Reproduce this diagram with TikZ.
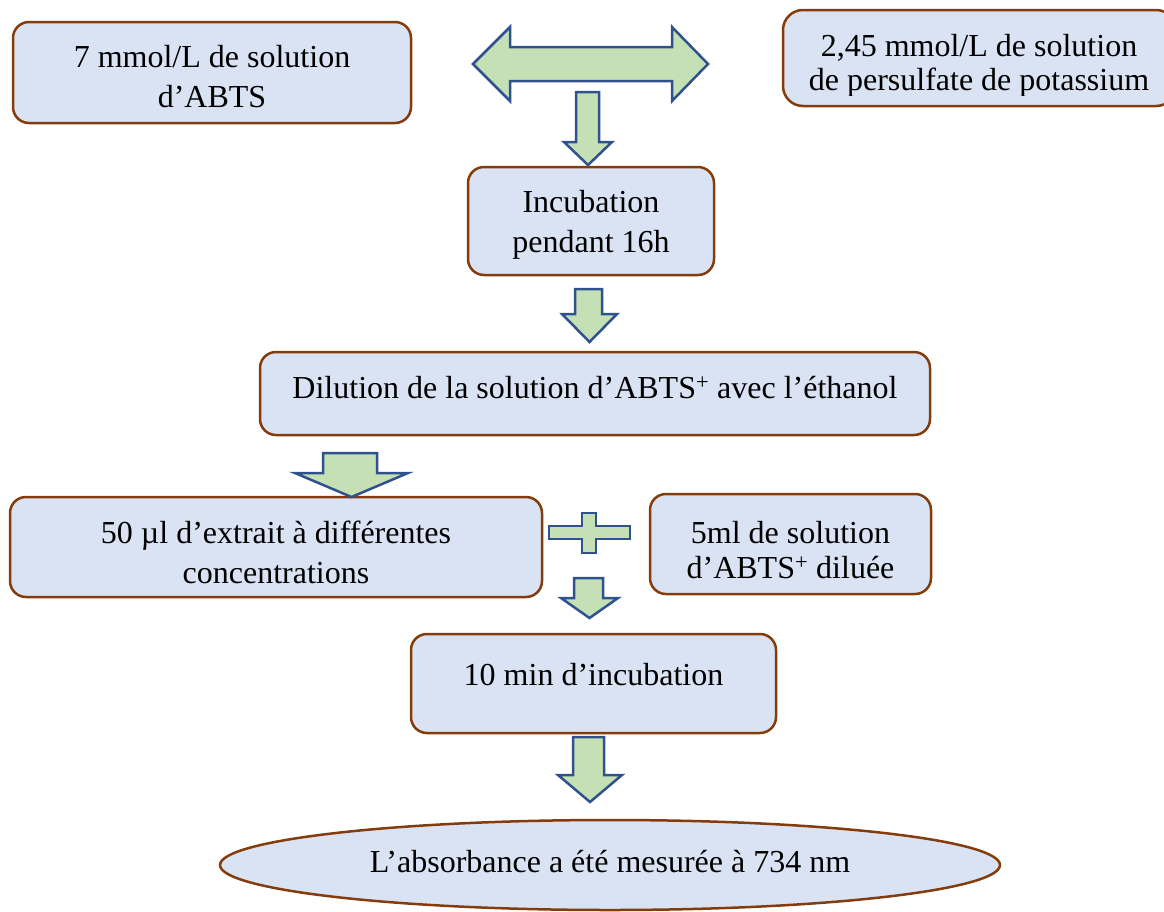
\documentclass[tikz,border=0pt]{standalone}
\usepackage{fontspec}
\setmainfont{Liberation Serif}
\usetikzlibrary{shapes.geometric}
\definecolor{boxfill}{HTML}{DAE3F3}
\definecolor{boxdraw}{HTML}{843C0C}
\definecolor{arrfill}{HTML}{C5E0B4}
\definecolor{arrdraw}{HTML}{2F528F}
\newcommand\blockdn[7]{%
  \draw[blockarrow] (#1,#3) -- (#2,#3) -- (#2,#4) -- (#6,#4) -- ({(#5+#6)/2},#7) -- (#5,#4) -- (#1,#4) -- cycle;}
\begin{document}
\begin{tikzpicture}[x=1pt,y=-1pt,
  stepbox/.style={draw=boxdraw,fill=boxfill,line width=2.5pt,rounded corners=16pt,inner sep=0pt},
  blockarrow/.style={draw=arrdraw,fill=arrfill,line width=2.5pt,line join=miter},
  txt/.style={inner sep=0pt,align=center,font=\fontsize{32}{40}\selectfont}]
\useasboundingbox (0,0) rectangle (1164,911);
\clip (0,0) rectangle (1164,911);

% boxes
\node[stepbox,minimum width=398pt,minimum height=101pt] (a) at (212,72.5) {};
\node[txt] (at) at ([yshift=-4.5pt]a.center) {7 mmol/L de solution\\d’ABTS};
\node[stepbox,minimum width=393pt,minimum height=96pt,rounded corners=20pt] (b) at (979.5,58) {};
\begin{scope}
  \clip (780,0) rectangle (1164,95);
  \node[txt,font=\fontsize{32}{34}\selectfont] (bt) at (979,66) {2,45 mmol/L de solution\\de persulfate de potassium};
\end{scope}
\node[stepbox,minimum width=246pt,minimum height=108pt] (c) at (591,221) {};
\node[txt] (ct) at ([yshift=-4pt]c.center) {Incubation\\pendant 16h};
\node[stepbox,minimum width=670pt,minimum height=83pt] (d) at (595,393.5) {};
\node[txt] (dt) at ([yshift=6pt]d.center) {Dilution de la solution d’ABTS\textsuperscript{+} avec l’éthanol};
\node[stepbox,minimum width=532pt,minimum height=100pt] (e) at (276,547) {};
\node[txt] (et) at ([yshift=-5pt]e.center) {50 µl d’extrait à différentes\\concentrations};
\node[stepbox,minimum width=281pt,minimum height=100pt] (f) at (790.5,544) {};
\node[txt,font=\fontsize{32}{35}\selectfont] (ft) at ([yshift=-6pt]f.center) {5ml de solution\\d’ABTS\textsuperscript{+} diluée};
\node[stepbox,minimum width=365pt,minimum height=99pt] (g) at (593.5,683.5) {};
\node[txt] (gt) at ([yshift=9pt]g.center) {10 min d’incubation};
\node[draw=boxdraw,fill=boxfill,line width=2.5pt,ellipse,inner sep=0pt,
  minimum width=780pt,minimum height=90pt] (h) at (610,865) {};
\node[txt] (ht) at ([yshift=3pt]h.center) {L’absorbance a été mesurée à 734 nm};

% double arrow
\draw[blockarrow] (473,64) -- (510,27) -- (510,47) -- (672,47) -- (672,27) -- (708,64)
  -- (672,101) -- (672,81) -- (510,81) -- (510,101) -- cycle;
% down arrows
\blockdn{576}{599}{92}{142}{564}{612}{165}
\blockdn{575}{602}{289}{314}{562}{617}{342}
\blockdn{323}{377}{453}{473}{295}{408}{497}
\blockdn{574}{603}{578}{598}{561}{618}{618}
\blockdn{573}{604}{737}{775}{558}{622}{802}
% plus
\draw[blockarrow] (582,513) -- (596,513) -- (596,526) -- (630,526) -- (630,539) -- (596,539)
  -- (596,553) -- (582,553) -- (582,539) -- (549,539) -- (549,526) -- (582,526) -- cycle;
\end{tikzpicture}
\end{document}
